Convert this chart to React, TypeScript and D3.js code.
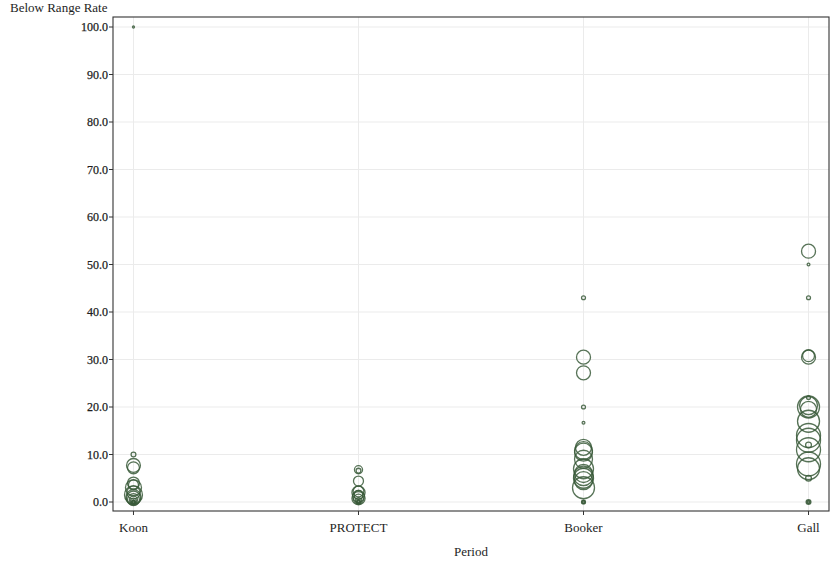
import React from "react";
import * as d3 from "d3";

const categories = ["Koon", "PROTECT", "Booker", "Gall"];
const yTicks = [0, 10, 20, 30, 40, 50, 60, 70, 80, 90, 100];

// each point: category, below range rate, sample size
const koonRates = [100, 10, 7.7, 7.2, 4.0, 3.6, 3.0, 2.0, 1.5, 1.0, 0.8, 0.5, 0.4, 0.2, 0, 0, 0, 0];
const koonSizes = [1, 6, 50, 37, 37, 26, 67, 45, 84, 60, 51, 37, 17, 9, 4, 3, 2, 1];
const protectRates = [6.8, 6.6, 4.4, 2.2, 2.0, 1.5, 1.2, 0.8, 0.6, 0.3, 0.1, 0, 0];
const protectSizes = [17, 6, 26, 30, 45, 20, 37, 45, 26, 9, 3, 4, 2];
const bookerRates = [43, 30.5, 27.2, 20, 16.7, 11.5, 10.8, 10.5, 9, 7, 6, 5.5, 5, 4.5, 3, 0, 0, 0];
const bookerSizes = [4, 51, 51, 4, 2, 67, 84, 84, 84, 104, 84, 100, 104, 84, 126, 4, 3, 1];
const gallRates = [52.8, 50, 43, 30.8, 30.5, 22, 20.3, 20, 19.5, 17, 14, 13, 12, 11, 8, 7, 5, 0, 0, 0];
const gallSizes = [51, 2, 4, 37, 51, 4, 84, 126, 67, 126, 150, 150, 9, 150, 150, 126, 9, 6, 3, 1];

const W = 831, H = 562;
const M = { left: 113, right: 829, top: 17, bottom: 511 };

export default function App() {
  const x = d3.scalePoint<string>().domain(categories).range([M.left, M.right]).padding(0.091);
  const y = d3.scaleLinear().domain([0, 100]).range([502, 27]);
  const r = d3.scaleSqrt().domain([0, 150]).range([0, 12]);

  const series: [string, number[], number[]][] = [
    ["Koon", koonRates, koonSizes],
    ["PROTECT", protectRates, protectSizes],
    ["Booker", bookerRates, bookerSizes],
    ["Gall", gallRates, gallSizes],
  ];
  const points = series.flatMap(([c, rates, sizes]) =>
    rates.map((v, i) => ({ c, v, n: sizes[i] }))
  );
  const font = "'Liberation Serif', 'Times New Roman', serif";
  const textCol = "#1e1e1e";

  return (
    <svg width={W} height={H} style={{ position: "absolute", left: 0, top: 0 }} fontFamily={font}>
      <rect x={0} y={0} width={W} height={H} fill="#fff" />
      {yTicks.map((t) => (
        <line key={"gy" + t} x1={M.left} x2={M.right} y1={y(t)} y2={y(t)} stroke="#ebebeb" strokeWidth={1} />
      ))}
      {categories.map((c) => (
        <line key={"gx" + c} x1={x(c)} x2={x(c)} y1={M.top} y2={M.bottom} stroke="#ebebeb" strokeWidth={1} />
      ))}
      {points.map((p, i) => (
        <circle
          key={i}
          cx={x(p.c)}
          cy={y(p.v)}
          r={Math.max(r(p.n), 1)}
          fill="none"
          stroke="#3a5a3a"
          strokeOpacity={0.85}
          strokeWidth={1.3}
        />
      ))}
      <rect x={M.left} y={M.top} width={M.right - M.left} height={M.bottom - M.top} fill="none" stroke="#333" strokeWidth={1.1} />
      {yTicks.map((t) => (
        <g key={"ty" + t}>
          <line x1={M.left - 4} x2={M.left} y1={y(t)} y2={y(t)} stroke="#333" />
          <text x={M.left - 5} y={y(t)} dy="0.35em" textAnchor="end" fontSize={12} fill={textCol} stroke={textCol} strokeWidth={0.25}>
            {d3.format(".1f")(t)}
          </text>
        </g>
      ))}
      {categories.map((c) => (
        <g key={"tx" + c}>
          <line x1={x(c)} x2={x(c)} y1={M.bottom} y2={M.bottom + 4} stroke="#333" />
          <text x={x(c)} y={M.bottom + 21} textAnchor="middle" fontSize={13} fill={textCol}>
            {c}
          </text>
        </g>
      ))}
      <text x={10} y={12} fontSize={13} fill={textCol}>Below Range Rate</text>
      <text x={(M.left + M.right) / 2} y={556} textAnchor="middle" fontSize={13} fill={textCol}>Period</text>
    </svg>
  );
}
